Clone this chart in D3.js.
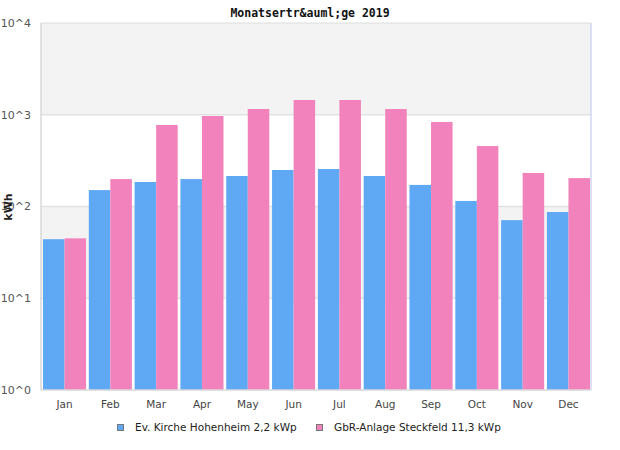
<!DOCTYPE html>
<html><head><meta charset="utf-8">
<script src="https://cdn.jsdelivr.net/npm/d3@7"></script>
<style>body{margin:0;background:#fff;} svg{display:block;}</style>
</head><body>
<svg id="c" width="620" height="450"></svg>
<script>
const months = ["Jan","Feb","Mar","Apr","May","Jun","Jul","Aug","Sep","Oct","Nov","Dec"];
const seriesNames = ["Ev. Kirche Hohenheim 2,2 kWp","GbR-Anlage Steckfeld 11,3 kWp"];
const kirche = [44, 151, 185, 199, 215, 250, 256, 215, 172, 115, 71, 87];
const steckfeld = [45, 199, 773, 969, 1155, 1449, 1449, 1155, 834, 456, 232, 204];
const yTicks = [1, 10, 100, 1000, 10000];
const yTickLabels = ["10^0","10^1","10^2","10^3","10^4"];
const colors = ["#5fa8f4", "#f282bc"];
const title = "Monatsertr&auml;ge 2019";

const svg = d3.select("#c");
const L = 41, R = 591, T = 23, B = 390;
const y = d3.scaleLog().domain([1, 10000]).range([B, T]);
const x = d3.scaleBand().domain(months).range([43, 590]).paddingInner(0.06).paddingOuter(0);
const xs = d3.scaleBand().domain([0,1]).range([0, x.bandwidth()]).padding(0);

// alternating bands
for (let i = 0; i < yTicks.length - 1; i++) {
  svg.append("rect").attr("x", L).attr("width", R - L)
    .attr("y", y(yTicks[i+1])).attr("height", y(yTicks[i]) - y(yTicks[i+1]))
    .attr("fill", i % 2 === 1 ? "#f3f3f3" : "#ffffff");
}
// grid lines
svg.append("g").selectAll("line").data(yTicks.slice(1, -1)).join("line")
  .attr("x1", L).attr("x2", R).attr("y1", d => y(d)).attr("y2", d => y(d))
  .attr("stroke", "#e2e2e2").attr("stroke-width", 1.5);

// bars
const data = months.map((m, i) => ({m, v: [kirche[i], steckfeld[i]]}));
const g = svg.append("g").selectAll("g").data(data).join("g")
  .attr("transform", d => `translate(${x(d.m)},0)`);
g.selectAll("rect").data(d => d.v.map((v, k) => ({v, k}))).join("rect")
  .attr("x", d => xs(d.k)).attr("width", xs.bandwidth())
  .attr("y", d => y(d.v)).attr("height", d => B - y(d.v))
  .attr("fill", d => colors[d.k]);

// frame
svg.append("line").attr("x1", L).attr("x2", R).attr("y1", T).attr("y2", T).attr("stroke", "#dddddd").attr("stroke-width", 1);
svg.append("line").attr("x1", L).attr("x2", L).attr("y1", T).attr("y2", B).attr("stroke", "#d8d8d8").attr("stroke-width", 1.5);
svg.append("line").attr("x1", L).attr("x2", R).attr("y1", B).attr("y2", B).attr("stroke", "#d8d8d8").attr("stroke-width", 1.5);
svg.append("line").attr("x1", R).attr("x2", R).attr("y1", T).attr("y2", B).attr("stroke", "#d4d4f0").attr("stroke-width", 1.5);

// y tick labels
svg.append("g").selectAll("text").data(yTicks).join("text")
  .attr("x", 31).attr("y", d => y(d)).attr("dy", "0.35em")
  .attr("text-anchor", "end").attr("font-family", "DejaVu Sans").attr("font-size", 11)
  .attr("fill", "#555").text((d, i) => yTickLabels[i]);

// x labels
svg.append("g").selectAll("text").data(months).join("text")
  .attr("x", d => x(d) + x.bandwidth() / 2).attr("y", 408)
  .attr("text-anchor", "middle").attr("font-family", "DejaVu Sans").attr("font-size", 10.5)
  .attr("fill", "#444").text(d => d);

// y label
svg.append("text").attr("transform", "translate(12,207) rotate(-90)")
  .attr("text-anchor", "middle").attr("font-family", "DejaVu Sans").attr("font-weight", "bold")
  .attr("font-size", 11).attr("fill", "#222").text("kWh");

// title
svg.append("text").attr("x", 310).attr("y", 17).attr("text-anchor", "middle")
  .attr("font-family", "DejaVu Sans Mono").attr("font-weight", "bold").attr("font-size", 11.5)
  .attr("fill", "#111").text(title);

// legend
const legX = [117, 316];
const lg = svg.append("g").selectAll("g").data(seriesNames).join("g")
  .attr("transform", (d, i) => `translate(${legX[i]},424)`);
lg.append("rect").attr("x", 0.5).attr("y", 0.5).attr("width", 6).attr("height", 6)
  .attr("fill", (d, i) => colors[i]).attr("stroke", "#777").attr("stroke-width", 1);
lg.append("text").attr("x", 18).attr("y", 3.5).attr("dy", "0.35em")
  .attr("font-family", "DejaVu Sans").attr("font-size", 10.5).attr("fill", "#222").text(d => d);
</script>
</body></html>
